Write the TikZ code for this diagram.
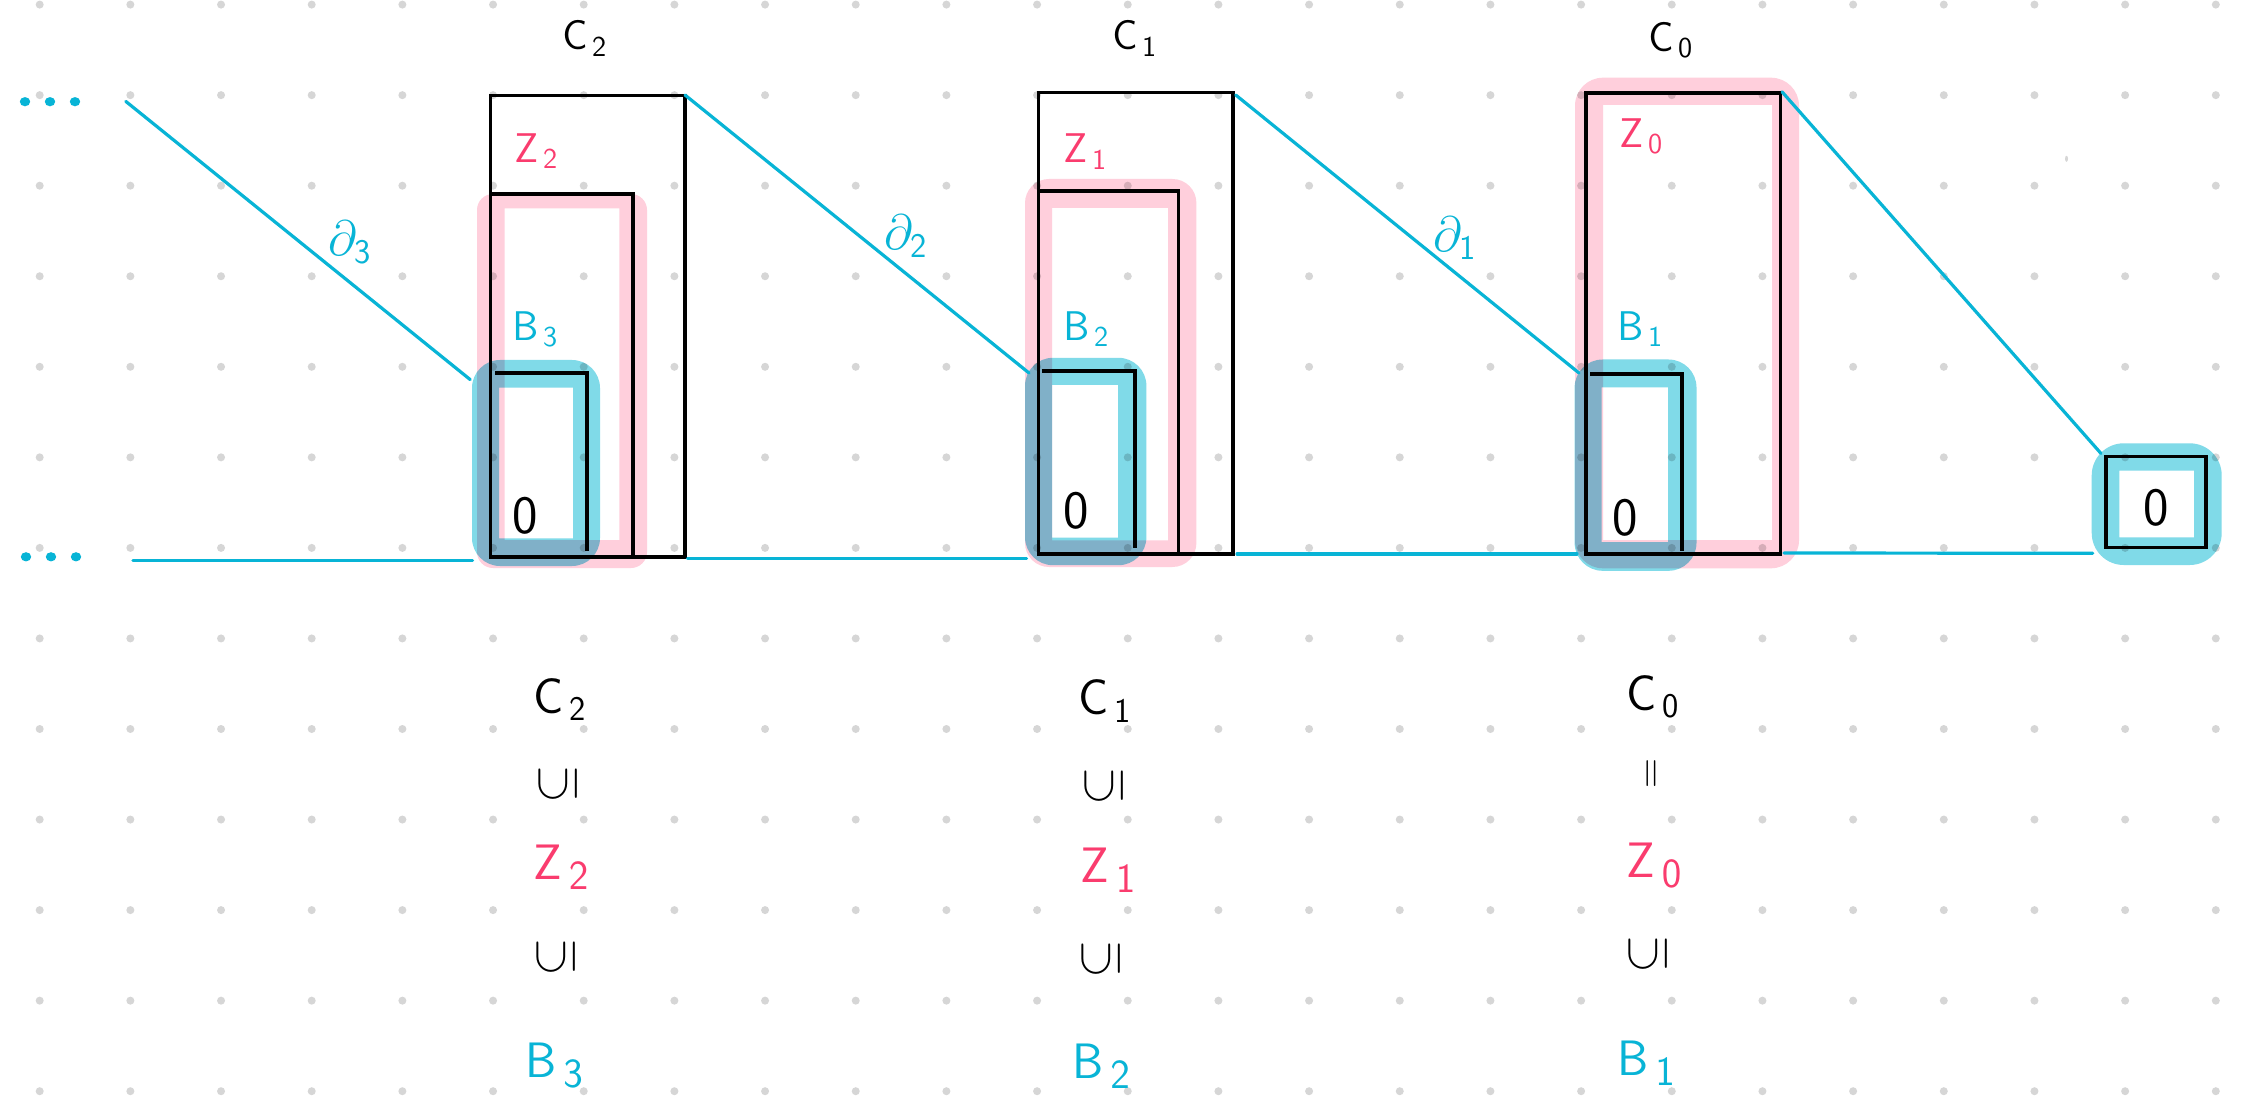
\documentclass[tikz,border=0pt]{standalone}
\usepackage{graphicx}
\definecolor{cyanline}{RGB}{8,180,214}
\definecolor{pinktext}{RGB}{250,60,110}
\definecolor{pinkhl}{RGB}{255,207,220}
\definecolor{cyanhl}{RGB}{128,218,232}
\definecolor{dotgray}{RGB}{214,214,214}
\newcommand{\mylab}[2]{$\mathsf{#1}_{\,\mathsf{#2}}$}
\begin{document}
\begin{tikzpicture}[x=0.5pt,y=-0.5pt,
  hlpink/.style={fill=pinkhl, even odd rule},
  hlcyan/.style={fill=cyanhl, even odd rule},
  blk/.style={draw=black, line width=1.8pt, line join=miter},
  cyl/.style={draw=cyanline, line width=1.6pt, line cap=round},
  lbl/.style={inner sep=0pt, anchor=base west},
  ctr/.style={inner sep=0pt, anchor=center},
  tsz/.style={font=\fontsize{20}{24}\selectfont},
  isz/.style={font=\fontsize{20}{24}\selectfont},
  dsz/.style={font=\fontsize{24}{28}\selectfont, text=cyanline},
  zsz/.style={font=\fontsize{27}{32}\selectfont\sffamily},
  csz/.style={font=\fontsize{24}{28}\selectfont},
  bsz/.style={font=\fontsize{28}{32}\selectfont},
  usz/.style={font=\fontsize{26}{30}\selectfont},
]
\useasboundingbox[fill=white] (0,0) rectangle (2241,1106);
% grid of dots
\foreach \i in {0,...,24}{\foreach \j in {0,...,12}{
  \fill[dotgray] (39.7+90.67*\i, 4.6+90.55*\j) circle[radius=4];}}
\fill[dotgray] (2066.5,158.8) ellipse[x radius=1.5, y radius=3];
% highlights
\begin{scope}[blend mode=multiply]
  \fill[hlpink] [rounded corners=8] (477,194) rectangle (647,568) [sharp corners] (504.6,208.5) rectangle (619.4,540);
  \fill[hlpink] [rounded corners=12] (1025,179) rectangle (1196.4,567) [sharp corners] (1052,207.8) rectangle (1168,540.4);
  \fill[hlpink] [rounded corners=14] (1575,77.7) rectangle (1799,568.3) [sharp corners] (1603,105) rectangle (1772,540);
  \fill[hlcyan] [rounded corners=14] (472,360) rectangle (600,566) [sharp corners] (499,387.6) rectangle (573,538.4);
  \fill[hlcyan] [rounded corners=14] (1025,357.8) rectangle (1146.4,565.2) [sharp corners] (1052,385) rectangle (1118,537.7);
  \fill[hlcyan] [rounded corners=14] (1574.6,359.5) rectangle (1696.5,570.8) [sharp corners] (1601.5,387.5) rectangle (1668.2,542);
  \fill[hlcyan] [rounded corners=16] (2091.7,443.3) rectangle (2221.7,565) [sharp corners] (2119.3,470.7) rectangle (2194,537.3);
\end{scope}
% named corner coordinates
\coordinate (C2tl) at (490.3,95.7);  \coordinate (C2br) at (685,556.8);
\coordinate (C1tl) at (1038.3,92.6); \coordinate (C1br) at (1233.2,553.8);
\coordinate (C0tl) at (1586.2,93);   \coordinate (C0br) at (1780.5,553.8);
\coordinate (Ftl) at (2106,456.7);   \coordinate (Fbr) at (2206,547.3);
% black boxes
\draw[blk] (C2tl) rectangle (C2br);
\draw[blk] (490.3,194) -- (632.8,194) -- (632.8,556.8);
\draw[blk] (495,373) -- (587,373) -- (587,551);
\draw[blk] (C1tl) rectangle (C1br);
\draw[blk] (1038.3,191.3) -- (1178.6,191.3) -- (1178.6,553.8);
\draw[blk] (1041.8,371.2) -- (1134.7,371.2) -- (1134.7,548);
\draw[blk] (C0tl) rectangle (C0br);
\draw[blk] (1590,374.3) -- (1682,374.3) -- (1682,551);
\draw[blk] (Ftl) rectangle (Fbr);
% connector end points
\coordinate (d3s) at (125.8,101.4); \coordinate (d3e) at (470.2,379.6);
\coordinate (b3s) at (133,560.6);   \coordinate (b3e) at (472.6,560.6);
\coordinate (d2s) at (685,95);      \coordinate (d2e) at (1029,373);
\coordinate (b2s) at (687.5,558.7); \coordinate (b2e) at (1026.5,558.7);
\coordinate (d1s) at (1235.7,95);   \coordinate (d1e) at (1579,373);
\coordinate (b1s) at (1237,554);    \coordinate (b1e) at (1577,554);
\coordinate (d0s) at (1782,91.8);   \coordinate (d0e) at (2101,453.5);
\coordinate (b0s) at (1784,553);    \coordinate (b0e) at (2092.7,553.3);
\draw[cyl] (d3s) -- (d3e);
\draw[cyl] (b3s) -- (b3e);
\draw[cyl] (d2s) -- (d2e);
\draw[cyl] (b2s) -- (b2e);
\draw[cyl] (d1s) -- (d1e);
\draw[cyl] (b1s) -- (b1e);
\draw[cyl] (d0s) -- (d0e);
\draw[cyl] (b0s) -- (b0e);
% ellipsis dots
\foreach \x in {25,50,75}{
  \fill[cyanline] (\x,101.7) ellipse[x radius=5.2, y radius=4.6];
  \fill[cyanline] (\x+1,556.8) ellipse[x radius=5.2, y radius=4.6];}
% top labels
\node[lbl,tsz] (tC2) at (562,50) {\mylab{C}{2}};
\node[lbl,tsz] (tC1) at (1112,50) {\mylab{C}{1}};
\node[lbl,tsz] (tC0) at (1648,51.7) {\mylab{C}{0}};
% inner labels
\node[lbl,isz,text=pinktext] (iZ2) at (514,162.6) {\mylab{Z}{2}};
\node[lbl,isz,text=cyanline] (iB3) at (512,340.6) {\mylab{B}{3}};
\node[lbl,isz,text=pinktext] (iZ1) at (1063,163) {\mylab{Z}{1}};
\node[lbl,isz,text=cyanline] (iB2) at (1063,340.6) {\mylab{B}{2}};
\node[lbl,isz,text=pinktext] (iZ0) at (1619,147.3) {\mylab{Z}{0}};
\node[lbl,isz,text=cyanline] (iB1) at (1617,340.6) {\mylab{B}{1}};
% boundary labels
\node[lbl,dsz] (p3) at (328,256) {$\partial_{\mathsf{3}}$};
\node[lbl,dsz] (p2) at (884,250) {$\partial_{\mathsf{2}}$};
\node[lbl,dsz] (p1) at (1433,252) {$\partial_{\mathsf{1}}$};
% zeros
\node[ctr,zsz] (z3) at (525,515.7) {0};
\node[ctr,zsz] (z2) at (1076,511) {0};
\node[ctr,zsz] (z1) at (1625,518) {0};
\node[ctr,zsz] (z0) at (2156,507.3) {0};
% bottom chains
\node[lbl,csz] (bC2) at (533,713) {\mylab{C}{2}};
\node[ctr,usz] (u21) at (557.8,784.5) {\rotatebox{90}{$\subseteq$}};
\node[lbl,bsz,text=pinktext] (bZ2) at (533,879) {\mylab{Z}{2}};
\node[ctr,usz] (u22) at (556,957.3) {\rotatebox{90}{$\subseteq$}};
\node[lbl,bsz,text=cyanline] (bB3) at (525,1077) {\mylab{B}{3}};
\node[lbl,csz] (bC1) at (1078,714.8) {\mylab{C}{1}};
\node[ctr,usz] (u11) at (1104,785.7) {\rotatebox{90}{$\subseteq$}};
\node[lbl,bsz,text=pinktext] (bZ1) at (1080,882) {\mylab{Z}{1}};
\node[ctr,usz] (u12) at (1100.8,959) {\rotatebox{90}{$\subseteq$}};
\node[lbl,bsz,text=cyanline] (bB2) at (1072,1078.6) {\mylab{B}{2}};
\node[lbl,csz] (bC0) at (1626,710) {\mylab{C}{0}};
\node[ctr,font=\fontsize{20}{24}\selectfont] (e01) at (1654,773.8) {\rotatebox{90}{$=$}};
\node[lbl,bsz,text=pinktext] (bZ0) at (1626,877.6) {\mylab{Z}{0}};
\node[ctr,usz] (u02) at (1648,954) {\rotatebox{90}{$\subseteq$}};
\node[lbl,bsz,text=cyanline] (bB1) at (1617,1075) {\mylab{B}{1}};
\end{tikzpicture}
\end{document}
